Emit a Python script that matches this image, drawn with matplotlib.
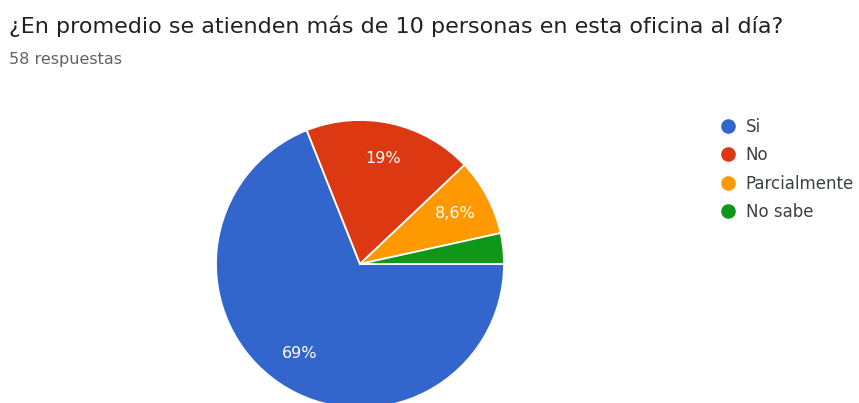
import matplotlib
matplotlib.use("Agg")
import matplotlib.pyplot as plt
from matplotlib.lines import Line2D

# survey answers (58 responses)
labels = ["Si", "No", "Parcialmente", "No sabe"]
counts = [40, 11, 5, 2]
colors = ["#3366CC", "#DC3912", "#FF9900", "#109618"]

title = "¿En promedio se atienden más de 10 personas en esta oficina al día?"
subtitle = f"{sum(counts)} respuestas"

plt.rcParams["font.family"] = ["DejaVu Sans"]

W, H = 859, 403
fig = plt.figure(figsize=(W / 100, H / 100), dpi=100)
fig.patch.set_facecolor("white")


def pct_label(p):
    # small slices stay unlabeled, others use two significant digits (es locale)
    return "" if p < 5 else f"{p:.2g}%".replace(".", ",")


# pie centre and radius in pixels
cx, cy, r = 360, 264, 144
ax = fig.add_axes([(cx - r) / W, (H - cy - r) / H, 2 * r / W, 2 * r / H])
wedges, texts, autotexts = ax.pie(
    counts, colors=colors, startangle=0, counterclock=False,
    autopct=pct_label, pctdistance=0.75,
    wedgeprops=dict(edgecolor="white", linewidth=1.3),
    textprops=dict(color="white", fontsize=11.5),
)
ax.set_aspect("equal")
ax.set_xlim(-1, 1)
ax.set_ylim(-1, 1)

fig.text(9 / W, 1 - 33 / H, title, fontsize=16, color="#202124", va="baseline")
fig.text(9 / W, 1 - 64 / H, subtitle, fontsize=11.5, color="#5f6368", va="baseline")

handles = [Line2D([], [], marker="o", linestyle="", markersize=9.5,
                  markerfacecolor=c, markeredgecolor=c) for c in colors]
leg = fig.legend(handles, labels, loc="upper left",
                 bbox_to_anchor=(720 / W, 1 - 118 / H), frameon=False,
                 fontsize=12, handlelength=1.0, handletextpad=0.55,
                 labelspacing=0.62, borderaxespad=0, borderpad=0)
for t in leg.get_texts():
    t.set_color("#3c4043")

fig.savefig("out.png", dpi=100)
